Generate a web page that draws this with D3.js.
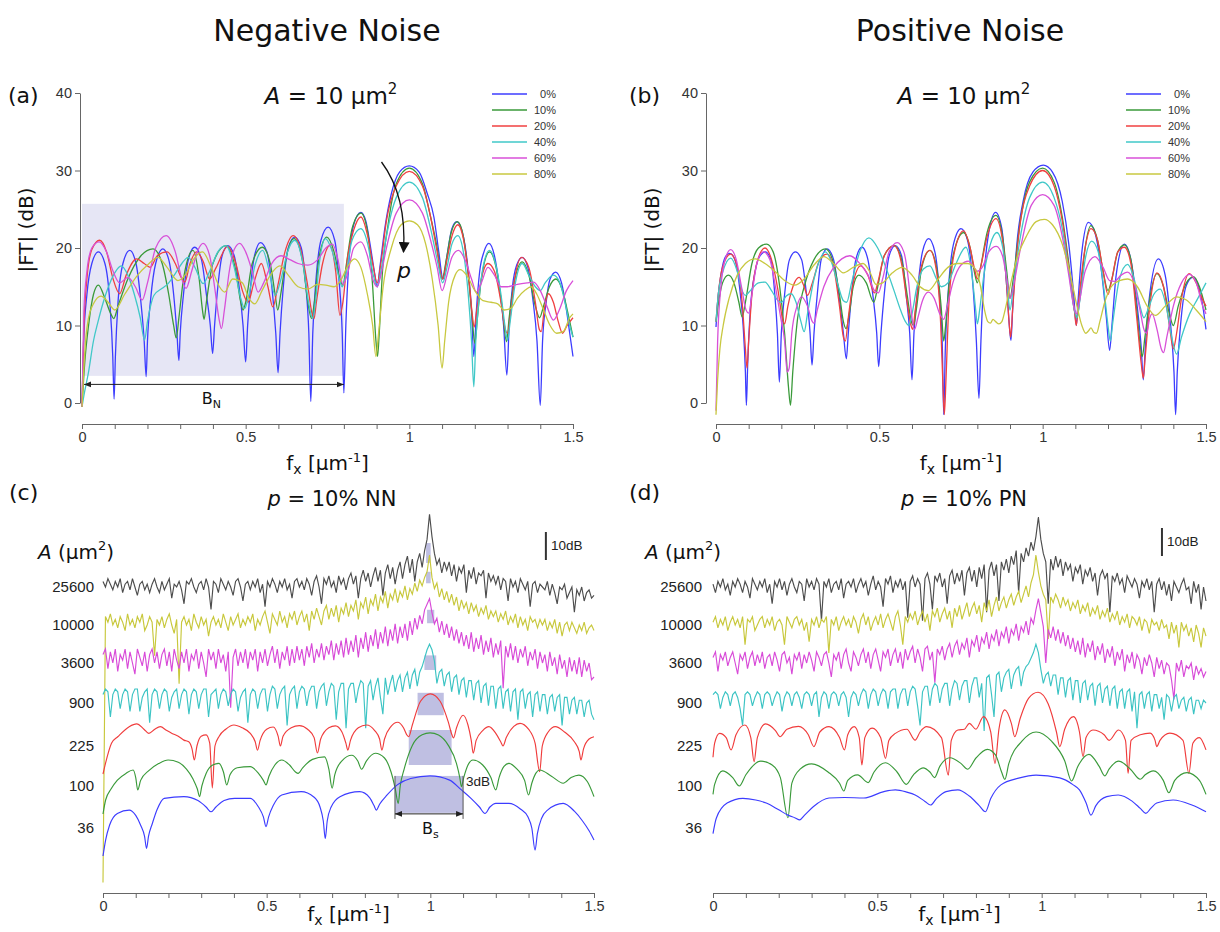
<!DOCTYPE html>
<html>
<head>
<meta charset="utf-8">
<script src="https://cdn.jsdelivr.net/npm/d3@7"></script>
<style>
  body { margin: 0; background: #fff; }
  svg text { font-family: "DejaVu Sans", sans-serif; fill: #111; }
  .axis path, .axis line { stroke: #666; }
  .axis .tick text { font-family: "Liberation Sans", Arial, sans-serif; font-size: 14.5px; fill: #333; }
</style>
</head>
<body>
<svg id="chart" width="1220" height="932"></svg>
<script>
// ---------- data ----------
const noiseLevels = ['0%', '10%', '20%', '40%', '60%', '80%'];
const noiseColors = ['#3c3cff', '#3a9a3a', '#f04040', '#40c8c8', '#d850d8', '#c8c840'];
const dbTicks = [0, 10, 20, 30, 40];
const fxTicks = [0, 0.1, 0.2, 0.3, 0.4, 0.5, 0.6, 0.7, 0.8, 0.9, 1, 1.1, 1.2, 1.3, 1.4, 1.5];
const fxLabelled = [0, 0.5, 1, 1.5];

// (a) negative noise, A = 10 um^2, [fx, dB]
const negBlue = [[0,-0.5],[0.005,8],[0.015,14],[0.03,18],[0.05,19.5],[0.07,18],[0.085,13],[0.094,6],[0.098,0.5],[0.102,6],[0.11,13],[0.125,18],[0.146,19.7],[0.165,18],[0.18,13],[0.19,8],[0.196,3.4],[0.2,8],[0.21,13.5],[0.225,18],[0.247,19.9],[0.265,18.5],[0.28,14],[0.29,9],[0.296,5.5],[0.3,9],[0.31,14],[0.325,18.5],[0.344,20.1],[0.365,18.5],[0.38,14],[0.392,10],[0.399,6.4],[0.405,10],[0.415,15],[0.428,19],[0.446,20.3],[0.465,19],[0.48,15],[0.492,10],[0.5,5.3],[0.506,10],[0.515,15],[0.527,19],[0.545,20.7],[0.565,19.5],[0.58,15],[0.592,9],[0.599,3.9],[0.605,9],[0.615,15],[0.63,20],[0.65,21.4],[0.67,20],[0.683,15.5],[0.693,9],[0.699,0.2],[0.705,9],[0.715,16],[0.73,21],[0.752,22.7],[0.772,21],[0.785,16],[0.795,9],[0.8,1.3],[0.806,10],[0.815,18],[0.83,23],[0.852,24.6],[0.867,23.5],[0.88,20.5],[0.893,17],[0.902,15],[0.91,17.5],[0.925,22.5],[0.945,27],[0.97,29.8],[1.0,30.6],[1.03,29.8],[1.055,27],[1.075,24],[1.09,19.5],[1.103,16],[1.115,19],[1.13,22.5],[1.145,23.4],[1.165,21.5],[1.18,17],[1.19,12],[1.197,6],[1.205,12],[1.215,17],[1.228,19.5],[1.243,20.6],[1.26,19],[1.275,15],[1.288,10],[1.298,3.6],[1.305,10],[1.315,15],[1.328,17.8],[1.345,18.8],[1.362,17.5],[1.377,13.5],[1.39,8],[1.4,-0.3],[1.407,8],[1.418,13],[1.43,16],[1.447,16.9],[1.465,15.5],[1.48,12],[1.49,9],[1.5,6]];
const negGreen = [[0,-0.5],[0.008,5],[0.02,10],[0.035,14],[0.05,15.2],[0.07,13.5],[0.088,11.5],[0.097,10.9],[0.11,12.5],[0.14,16],[0.18,19],[0.217,19.9],[0.245,18],[0.265,14],[0.28,10],[0.288,8.4],[0.296,11],[0.31,16],[0.339,19.7],[0.358,16],[0.368,12],[0.373,10.8],[0.38,13],[0.4,18],[0.44,20.3],[0.47,17],[0.485,13],[0.492,12],[0.5,13],[0.52,18],[0.551,20.1],[0.575,18],[0.59,14],[0.598,12],[0.607,14],[0.625,19],[0.648,21.2],[0.675,18],[0.69,13],[0.701,10.9],[0.71,13],[0.725,19],[0.748,21.4],[0.77,19.5],[0.788,16],[0.797,15.2],[0.808,18],[0.825,22.5],[0.852,24.5],[0.873,22],[0.888,15],[0.898,8],[0.903,6],[0.908,9],[0.918,17],[0.935,23],[0.96,28.3],[1.0,30.3],[1.04,28.3],[1.065,24],[1.085,20],[1.1,16],[1.113,18.5],[1.128,22],[1.147,23.4],[1.165,21.5],[1.18,16.5],[1.192,11],[1.2,7.7],[1.208,11],[1.22,16],[1.245,19.5],[1.265,17.5],[1.283,12.5],[1.297,7.9],[1.305,11],[1.32,15.5],[1.345,18.2],[1.365,16.5],[1.385,12.5],[1.398,11],[1.41,12.5],[1.428,15],[1.448,16],[1.468,14.5],[1.485,11.5],[1.5,8.5]];
const negRed = [[0,-0.5],[0.006,10],[0.015,16],[0.03,19.8],[0.054,21],[0.075,19.5],[0.095,16],[0.115,14.1],[0.135,16.5],[0.167,18.6],[0.19,18],[0.208,17.5],[0.23,19],[0.26,19.5],[0.285,18],[0.303,16.2],[0.314,15.6],[0.33,18],[0.35,19.5],[0.37,18.3],[0.39,16],[0.41,17.5],[0.445,20.2],[0.47,18],[0.49,14.5],[0.507,13],[0.525,15.5],[0.548,18],[0.568,15],[0.583,12.4],[0.6,15.5],[0.62,19.5],[0.645,21.6],[0.67,19.5],[0.69,15],[0.703,11.5],[0.709,10.9],[0.716,13],[0.735,18],[0.757,20.3],[0.775,17],[0.788,11.3],[0.797,13],[0.812,19],[0.83,22.3],[0.852,24],[0.873,21.5],[0.888,18],[0.902,15.5],[0.913,18],[0.93,23.5],[0.96,28],[1.0,29.9],[1.04,28],[1.065,24],[1.085,19.5],[1.102,16],[1.115,18.5],[1.13,21.5],[1.148,23],[1.166,21],[1.182,16],[1.192,11.5],[1.198,9.8],[1.206,12],[1.22,16],[1.24,18],[1.26,17],[1.28,13],[1.293,9.5],[1.3,9],[1.308,11],[1.32,15.5],[1.343,18.8],[1.365,17.5],[1.385,13],[1.397,9.5],[1.403,9.2],[1.412,12],[1.425,14.1],[1.44,13],[1.455,10.5],[1.468,9],[1.482,10],[1.5,11]];
const negCyan = [[0,-0.5],[0.006,1],[0.02,4],[0.035,8],[0.049,10.5],[0.065,13],[0.079,14.8],[0.1,16.8],[0.12,17.7],[0.14,16.5],[0.16,14],[0.178,11],[0.191,8.1],[0.2,10.5],[0.22,13.9],[0.245,14.8],[0.263,15.4],[0.285,16.7],[0.305,18],[0.324,18.8],[0.345,17.5],[0.37,15.4],[0.39,17],[0.415,19.5],[0.44,20.3],[0.465,17.5],[0.485,13.5],[0.497,12.2],[0.51,14],[0.53,18],[0.552,19.7],[0.572,17],[0.59,13.9],[0.608,16],[0.628,19.5],[0.65,21],[0.675,18],[0.692,13],[0.705,10.9],[0.713,13],[0.725,18],[0.743,21.2],[0.765,19.5],[0.783,16.5],[0.795,15],[0.808,17],[0.825,21],[0.852,22.5],[0.873,20.5],[0.89,16.5],[0.902,15],[0.913,17],[0.93,21.5],[0.96,26.5],[1.0,28.5],[1.04,26.5],[1.065,22.5],[1.085,18.5],[1.102,15.5],[1.115,17.5],[1.13,20.5],[1.148,21.6],[1.165,19.5],[1.18,14],[1.19,8],[1.197,2.1],[1.203,8],[1.212,13],[1.225,17.5],[1.245,19.7],[1.263,18],[1.28,14],[1.292,10],[1.3,8.1],[1.308,10.5],[1.322,15],[1.345,18],[1.365,16.5],[1.385,15],[1.4,14.5],[1.415,15.5],[1.44,16.5],[1.46,15.5],[1.478,12.5],[1.49,10],[1.5,8.5]];
const negMagenta = [[0,-0.5],[0.006,12],[0.015,17],[0.03,20],[0.052,20.8],[0.075,19.5],[0.095,17],[0.115,15.5],[0.14,16.2],[0.163,15],[0.184,13.3],[0.2,15.5],[0.225,20],[0.257,21.6],[0.285,19.5],[0.305,16],[0.318,14.8],[0.335,17],[0.355,19.8],[0.37,20.6],[0.39,19],[0.405,15],[0.418,11],[0.426,9.6],[0.435,12],[0.45,17],[0.465,19.8],[0.482,20.6],[0.5,19.5],[0.52,17],[0.538,14.3],[0.555,15.5],[0.58,18],[0.608,19],[0.635,18.5],[0.66,18],[0.69,17.8],[0.72,18.5],[0.745,20],[0.765,20.5],[0.782,18.5],[0.797,15.3],[0.81,16.5],[0.83,20],[0.852,20.8],[0.872,19],[0.888,16],[0.902,15],[0.913,16.5],[0.93,20],[0.96,24.5],[1.0,26.2],[1.04,24.5],[1.065,21],[1.085,17.5],[1.1,14.5],[1.115,16.5],[1.13,18.8],[1.15,19.7],[1.17,18.5],[1.19,16],[1.205,14.3],[1.22,15.5],[1.24,17.5],[1.26,16.5],[1.28,15],[1.3,15],[1.33,15.3],[1.36,15.5],[1.38,15.6],[1.4,14.5],[1.42,12.5],[1.44,10.7],[1.458,12],[1.48,14.5],[1.5,15.8]];
const negYellow = [[0,-0.5],[0.005,4],[0.012,8.5],[0.02,11],[0.035,12.8],[0.058,13.8],[0.08,13],[0.1,12],[0.13,14],[0.17,16.5],[0.2,17.8],[0.232,18.8],[0.26,17.5],[0.293,15.8],[0.315,16.5],[0.34,18.5],[0.368,19.5],[0.395,17.5],[0.42,15],[0.436,14.3],[0.46,16],[0.49,15.5],[0.51,13.5],[0.528,12.8],[0.55,14.5],[0.58,16.8],[0.604,17.7],[0.63,16.5],[0.66,15],[0.69,14.7],[0.72,15.3],[0.745,15.2],[0.77,15],[0.79,15.8],[0.81,17.5],[0.832,18.6],[0.852,17.5],[0.872,14],[0.888,10],[0.898,6],[0.906,9],[0.92,15],[0.945,20],[0.975,23],[1.0,23.5],[1.025,23],[1.05,20.5],[1.07,16],[1.088,10],[1.1,4.5],[1.108,8],[1.12,13],[1.14,16.5],[1.155,17.2],[1.175,16.5],[1.2,14.5],[1.225,13.2],[1.25,13],[1.27,12.8],[1.29,12],[1.31,12.2],[1.33,13.5],[1.355,14.6],[1.372,15],[1.39,14],[1.41,12],[1.43,10],[1.45,9],[1.47,9.2],[1.49,11],[1.5,11.5]];

// (b) positive noise, A = 10 um^2, [fx, dB]
const posBlue = [[0,9.8],[0.005,13],[0.015,16.5],[0.028,18.8],[0.042,19.3],[0.058,18.5],[0.072,15],[0.083,10],[0.09,4],[0.093,-0.3],[0.097,5],[0.105,12],[0.12,17],[0.135,19],[0.151,19.5],[0.168,18.5],[0.18,14],[0.188,9],[0.194,2.7],[0.2,9],[0.21,14],[0.225,18.5],[0.243,19.5],[0.262,18.5],[0.277,14],[0.288,9],[0.294,4.9],[0.3,9],[0.31,14],[0.322,18.5],[0.34,19.9],[0.36,18.5],[0.376,14],[0.39,9],[0.399,5.7],[0.405,9],[0.415,14],[0.428,18.5],[0.447,20.1],[0.465,18.5],[0.48,14],[0.492,9],[0.498,4.7],[0.505,9],[0.515,14],[0.53,19],[0.549,20.3],[0.568,19],[0.582,14],[0.593,9],[0.6,3],[0.606,9],[0.617,14.5],[0.632,19.5],[0.651,21.2],[0.67,19.5],[0.684,14],[0.693,7],[0.697,-1.5],[0.702,7],[0.712,15],[0.727,20.5],[0.75,22.5],[0.77,21],[0.785,16],[0.797,8],[0.805,0.6],[0.811,8],[0.82,16],[0.835,22],[0.856,24.6],[0.875,22.5],[0.89,15],[0.9,9],[0.903,8.1],[0.908,12],[0.92,20],[0.94,26],[0.97,29.8],[1.002,30.7],[1.03,29.8],[1.06,26],[1.08,20.5],[1.095,14],[1.103,10],[1.108,13],[1.12,19.5],[1.14,23.3],[1.16,22],[1.18,17],[1.195,11],[1.205,6.8],[1.212,10],[1.225,16.5],[1.25,20.5],[1.27,18.5],[1.288,13],[1.302,7],[1.308,3],[1.314,7],[1.325,13],[1.354,18.6],[1.375,16.5],[1.392,10],[1.402,4],[1.407,-1.5],[1.412,4],[1.422,10],[1.44,15.2],[1.46,16.2],[1.478,15],[1.492,12],[1.5,9.5]];
const posGreen = [[0,10.5],[0.008,13],[0.02,15.5],[0.038,16.5],[0.055,15.5],[0.07,13],[0.08,11.1],[0.09,13],[0.11,18],[0.13,20],[0.155,20.5],[0.175,19.5],[0.195,15],[0.21,9],[0.222,2],[0.228,-0.3],[0.235,4],[0.25,11],[0.27,15],[0.3,18.5],[0.335,19.9],[0.36,18],[0.378,14],[0.39,10.5],[0.398,9.6],[0.408,11.5],[0.42,15],[0.437,16.5],[0.46,15.5],[0.483,13],[0.495,15],[0.515,19],[0.545,20.3],[0.568,18.5],[0.585,14],[0.598,10.5],[0.605,10],[0.613,12],[0.63,17.5],[0.655,19.7],[0.675,17.5],[0.69,12],[0.697,8],[0.703,10],[0.715,16],[0.735,20.5],[0.758,22],[0.778,20],[0.793,16.5],[0.8,15.5],[0.81,17.5],[0.83,22],[0.857,24.2],[0.877,21.5],[0.89,17],[0.9,13.5],[0.91,16],[0.93,23],[0.96,28.5],[1.0,30.3],[1.035,28.5],[1.06,24],[1.08,18],[1.097,12],[1.105,11],[1.115,14],[1.13,20],[1.148,22.9],[1.168,21],[1.185,17],[1.2,14.5],[1.212,16],[1.23,19.5],[1.25,20.4],[1.27,18.5],[1.288,12],[1.3,7],[1.305,6],[1.313,8.5],[1.33,14],[1.35,16.7],[1.37,15],[1.388,11.5],[1.4,10],[1.415,12.5],[1.44,15.5],[1.462,16.3],[1.48,15],[1.5,12]];
const posRed = [[0,10.5],[0.007,14],[0.02,17.5],[0.045,19.2],[0.065,17.5],[0.08,13],[0.09,7],[0.095,4.5],[0.1,8],[0.11,14],[0.128,18.5],[0.15,20],[0.17,18.5],[0.19,14.5],[0.203,11],[0.21,10.2],[0.22,12.5],[0.24,15.5],[0.255,16.2],[0.27,15],[0.28,13.9],[0.295,15.5],[0.318,18.5],[0.34,19.2],[0.36,17.5],[0.378,12.5],[0.39,8.5],[0.396,8],[0.405,11],[0.42,15.5],[0.443,17.7],[0.465,16.5],[0.485,14.2],[0.495,15.5],[0.515,19],[0.545,20.3],[0.568,18],[0.585,13],[0.597,10],[0.602,9.5],[0.61,12],[0.628,17.5],[0.655,19.7],[0.675,17],[0.688,10],[0.695,2],[0.699,-1.5],[0.704,3],[0.712,12],[0.73,19.5],[0.758,22.2],[0.778,20],[0.793,17],[0.8,16],[0.81,17.5],[0.83,21.5],[0.857,23.8],[0.877,21],[0.89,15],[0.898,10],[0.902,8.5],[0.908,12],[0.925,21],[0.96,28],[1.0,30],[1.035,28],[1.06,23.5],[1.08,17.5],[1.097,12],[1.103,10],[1.11,13],[1.128,19.5],[1.148,22.5],[1.168,21],[1.185,17],[1.2,14],[1.212,16],[1.23,19.5],[1.25,20.1],[1.27,18],[1.288,11],[1.302,5],[1.308,3.2],[1.314,6],[1.328,12.5],[1.35,16.8],[1.37,15],[1.388,10],[1.4,7],[1.41,9],[1.425,13.5],[1.448,16.7],[1.47,15.5],[1.488,13.5],[1.5,12.5]];
const posCyan = [[0,10.5],[0.007,14],[0.02,16.8],[0.045,18.7],[0.065,17],[0.08,14.5],[0.09,13.9],[0.105,14.5],[0.13,15.5],[0.15,15.6],[0.17,14.5],[0.19,13.2],[0.2,13],[0.215,13.8],[0.23,14.1],[0.245,13],[0.26,10.5],[0.27,9.2],[0.28,11.5],[0.3,16],[0.318,18.5],[0.335,19.5],[0.355,18],[0.375,15],[0.39,13.2],[0.4,13],[0.415,15.5],[0.44,19.5],[0.468,21.3],[0.495,20],[0.52,17.5],[0.545,14.5],[0.565,12],[0.58,10.5],[0.59,10],[0.6,11.5],[0.615,15],[0.635,17.3],[0.655,17.7],[0.675,16],[0.69,15],[0.71,15.5],[0.735,18],[0.765,20.1],[0.785,16],[0.795,12],[0.8,10.2],[0.807,12],[0.82,16.5],[0.84,20.5],[0.86,22],[0.878,20],[0.892,15],[0.9,12],[0.91,15],[0.93,21],[0.96,26.5],[1.0,28.5],[1.035,26.5],[1.06,22.5],[1.08,17],[1.097,12],[1.105,11],[1.113,13],[1.13,18.5],[1.15,20.9],[1.17,19.5],[1.188,14.5],[1.2,10],[1.207,8],[1.215,10.5],[1.235,16],[1.26,17.9],[1.28,16],[1.298,12.5],[1.31,11],[1.322,12],[1.34,14],[1.36,14.7],[1.378,12.5],[1.395,8.5],[1.41,6.3],[1.425,8.5],[1.45,11.5],[1.475,13.5],[1.5,15.5]];
const posMagenta = [[0,-1],[0.005,8],[0.015,15],[0.03,18.8],[0.045,19.8],[0.062,18.5],[0.078,15],[0.092,12],[0.1,11.6],[0.11,14],[0.125,18],[0.145,19.5],[0.165,18.5],[0.182,15],[0.198,11],[0.21,8],[0.218,4],[0.224,4.5],[0.232,9],[0.248,12.5],[0.262,13.7],[0.28,12.5],[0.295,10.5],[0.3,10.3],[0.31,12],[0.33,15],[0.36,17.5],[0.385,18.6],[0.41,19],[0.44,18],[0.465,16.5],[0.485,14.5],[0.497,14.2],[0.51,16],[0.53,19.5],[0.555,20.7],[0.575,19.5],[0.59,15.5],[0.6,11],[0.608,9.5],[0.618,11],[0.632,13.2],[0.65,14.3],[0.668,13.5],[0.685,11.5],[0.697,10.8],[0.708,12.5],[0.725,15.5],[0.75,17.8],[0.772,18.3],[0.79,17.5],[0.8,17],[0.815,17.5],[0.835,19.5],[0.858,20.2],[0.877,19],[0.892,15.5],[0.9,13.5],[0.91,15],[0.93,19.5],[0.965,25.5],[1.0,26.9],[1.035,25.5],[1.06,21.5],[1.08,16.5],[1.095,12.5],[1.103,11.5],[1.112,13],[1.13,17],[1.16,18.9],[1.185,17.5],[1.205,15.8],[1.22,15.7],[1.24,16.5],[1.26,16.9],[1.28,15.5],[1.298,12],[1.31,9.5],[1.318,9],[1.328,11],[1.335,11.5],[1.35,9.5],[1.363,7],[1.37,6.5],[1.38,8.5],[1.4,12.5],[1.425,15.5],[1.45,16.6],[1.47,15.5],[1.49,12.5],[1.5,11.5]];
const posYellow = [[0,-1.5],[0.005,3],[0.012,7],[0.022,10],[0.04,13.5],[0.065,16.5],[0.09,18],[0.12,18.6],[0.15,18],[0.18,17],[0.21,15.8],[0.24,15.2],[0.27,16],[0.3,17.8],[0.33,18.9],[0.36,18],[0.39,16.8],[0.42,17.5],[0.45,18],[0.47,17],[0.49,15.3],[0.51,15.5],[0.54,16.8],[0.57,17.5],[0.6,16.5],[0.625,15],[0.65,14.5],[0.68,16],[0.71,17.5],[0.74,18],[0.77,18],[0.795,17.2],[0.81,15],[0.822,12],[0.832,10.5],[0.84,10.3],[0.848,10.8],[0.856,10.5],[0.866,10.2],[0.875,10.5],[0.885,12],[0.9,15],[0.92,18.5],[0.95,21.5],[0.98,23.4],[1.005,23.7],[1.03,23],[1.06,20.5],[1.085,16.5],[1.105,12.5],[1.12,10],[1.132,9],[1.14,9.3],[1.148,9.7],[1.157,9.1],[1.165,9],[1.175,10.5],[1.19,13],[1.21,15],[1.235,15.8],[1.26,16],[1.29,15],[1.32,12.5],[1.345,11.3],[1.375,12.5],[1.41,13.7],[1.44,13.3],[1.47,12],[1.5,10.5]];

// (c)/(d) stacked spectra, dB relative to each row
const areaLabels = ['25600', '10000', '3600', '900', '225', '100', '36'];
const areaColors = ['#4d4d4d', '#c8c83c', '#d84ad8', '#3cc4c4', '#f03c3c', '#3a9a3a', '#3c3cff'];
const denseStep = 0.0075; // dense traces are sampled every 0.0075 um^-1 from 0 to 1.5

const nnBlack = [2,0,3,1,-1,2,0,3,-2,1,2,-1,3,0,-3,1,2,-1,1,-2,
  1,3,0,-2,2,-1,1,3,-4,1,0,2,-1,-6,2,1,3,0,-2,1,
  2,-1,3,0,-8,2,1,-2,3,1,-1,2,0,-3,2,3,0,-5,1,2,
  -1,2,0,3,-2,1,-7,2,0,3,1,-2,2,0,3,-1,1,-4,2,3,
  0,2,-1,3,1,-3,2,4,0,-6,3,1,4,0,2,-2,4,1,3,-1,
  3,5,1,4,-4,3,6,2,5,0,4,7,2,6,-3,5,8,3,7,1,
  6,9,3,8,11,5,10,2,9,12,7,13,17,26,18,12,8,10,5,9,
  6,9,4,8,2,7,5,8,-2,6,3,7,1,5,4,6,-4,5,2,4,
  1,4,-1,3,2,-5,3,0,2,-2,3,1,-1,2,-7,1,2,-2,1,0,
  -1,2,-3,1,-2,-6,0,-1,1,-4,-2,0,-9,-1,-3,0,-5,-2,-1,-4,
  -3];
const nnYellow = [-92,3,1,4,0,2,-1,3,1,-2,4,0,2,-1,3,1,4,-2,0,3,
  1,-11,2,0,3,-1,2,4,0,-3,2,-21,1,3,0,2,-2,4,1,-1,
  3,0,2,-4,1,3,0,2,-1,4,1,-2,3,0,2,4,-1,2,0,3,
  1,4,-2,2,0,3,5,1,-3,4,2,0,5,1,3,-1,4,2,5,0,
  3,5,1,4,-2,5,2,6,3,0,5,7,2,6,3,7,1,6,4,8,
  3,7,5,9,2,8,6,10,4,9,7,11,5,10,8,12,6,11,9,13,
  8,12,10,14,9,13,11,15,12,16,14,17,19,25,17,13,15,10,13,9,
  12,8,11,7,10,5,9,6,8,4,8,5,7,3,6,4,7,2,5,3,
  5,1,4,2,5,0,3,1,4,-1,3,0,2,-2,3,1,2,-1,2,0,
  2,-2,1,-1,2,-3,1,-4,0,1,-2,1,-1,-3,0,-2,1,-3,-1,0,
  -2];
const nnMagenta = [3,5,-2,4,0,5,-3,3,1,5,-2,4,0,-4,5,2,-1,4,-3,3,
  5,0,4,-2,3,5,-1,4,-3,5,1,-2,4,0,5,-3,3,1,5,-2,
  4,0,-5,5,1,4,-2,5,0,3,-3,4,-16,2,5,-1,4,0,5,-2,
  4,1,5,-3,4,0,5,-1,3,6,0,5,-2,4,1,6,-1,5,0,6,
  1,5,-1,6,2,7,0,5,2,7,1,6,3,8,1,7,3,8,2,9,
  3,8,4,10,2,9,5,11,4,10,6,12,5,11,7,13,6,12,8,14,
  7,13,9,14,8,15,10,16,12,17,14,19,21,23,18,14,16,11,15,10,
  14,9,13,8,12,7,11,6,10,5,11,4,9,5,10,3,8,4,9,2,
  7,3,8,-9,6,2,7,1,6,0,5,2,6,-1,4,1,5,-2,4,0,
  3,-3,4,-1,2,-4,3,-2,1,-5,2,-3,1,-4,2,-5,1,-3,0,-6,
  -5];
const nnCyan = [3,5,4,-5,3,5,4,-2,3,5,4,-3,3,5,5,-3,2,4,5,-7,
  3,5,4,-2,3,5,4,-3,2,4,5,-2,3,5,4,-4,3,5,4,-2,
  3,5,5,-5,3,4,5,-2,3,5,4,-1,3,5,4,-3,2,4,5,-7,
  3,5,4,-2,3,5,5,-3,3,6,5,-2,3,5,6,-8,3,5,6,-2,
  4,6,5,-1,4,6,6,-2,4,6,7,-1,4,7,6,-6,4,7,7,-9,
  5,7,7,0,5,8,7,-9,6,8,1,6,9,2,-4,9,3,7,10,4,
  8,10,4,9,11,5,10,12,6,11,13,16,19,21,19,15,7,11,12,6,
  10,11,4,9,10,3,8,9,2,8,8,1,7,8,0,6,7,-1,6,6,
  -2,5,6,-2,4,5,-3,4,5,-6,4,5,-2,3,4,-5,3,4,-3,3,
  3,-4,2,3,-3,2,3,-8,2,2,-4,1,2,-4,1,1,-5,0,1,-4,
  -6];
const nnRed = [[0,-10],[0.008,-6],[0.026,1],[0.045,3.3],[0.08,6.9],[0.103,7.9],[0.125,6],[0.14,4.5],[0.158,6],[0.175,6.9],[0.195,5.5],[0.211,4.5],[0.23,3.5],[0.247,2.1],[0.262,1.5],[0.272,-1],[0.279,-5],[0.287,0],[0.3,3.5],[0.315,4],[0.326,1],[0.334,-15],[0.342,0],[0.355,3.5],[0.375,6],[0.4,7.5],[0.425,6.5],[0.45,4.5],[0.465,1.5],[0.472,-1.5],[0.48,2],[0.5,6],[0.52,6.8],[0.535,3.5],[0.542,0],[0.55,3.5],[0.575,6.5],[0.6,7.3],[0.625,6],[0.645,3],[0.655,-2.5],[0.665,2.5],[0.69,6.5],[0.71,7.2],[0.73,5],[0.742,1],[0.748,-1.5],[0.756,2],[0.78,6.5],[0.805,7.5],[0.83,5.5],[0.845,2.5],[0.852,-1.5],[0.86,2.5],[0.88,7],[0.9,8.5],[0.918,6.5],[0.928,4],[0.934,3.3],[0.945,7.5],[0.97,16],[1.0,18.6],[1.03,16],[1.055,8.5],[1.066,4],[1.071,2.9],[1.08,6.5],[1.1,11],[1.115,7.5],[1.125,2],[1.131,-2.6],[1.14,2],[1.16,5.5],[1.179,6.9],[1.2,4.5],[1.215,1.5],[1.222,0],[1.232,3],[1.255,7],[1.274,8.1],[1.3,6],[1.32,1],[1.334,-9.2],[1.342,0],[1.36,5],[1.382,6.9],[1.41,5],[1.44,1.5],[1.455,-2],[1.46,-5],[1.468,-1],[1.485,2.5],[1.5,3.3]];
const nnGreen = [[0,-10],[0.008,-5],[0.025,-1],[0.044,2.1],[0.07,4.5],[0.092,5.7],[0.1,3],[0.106,-1.4],[0.115,2],[0.14,5.5],[0.17,8],[0.199,9.3],[0.23,8.5],[0.255,6],[0.275,2.5],[0.288,-1],[0.295,-3.8],[0.302,0],[0.315,4.5],[0.335,7.5],[0.354,8.1],[0.368,5],[0.378,0.4],[0.388,4],[0.41,6.5],[0.45,6.9],[0.475,4.5],[0.49,2],[0.498,0.4],[0.507,3.5],[0.525,7.5],[0.546,9.3],[0.57,7.5],[0.588,5],[0.596,4.5],[0.61,6.5],[0.64,9.5],[0.677,10.4],[0.69,6],[0.7,-0.8],[0.708,4],[0.73,9],[0.76,11],[0.778,9],[0.79,6],[0.805,9],[0.832,11.7],[0.86,10],[0.88,5],[0.893,-1],[0.902,-6.2],[0.908,0],[0.92,6],[0.945,14.5],[0.975,18.3],[0.999,19],[1.025,18.2],[1.055,14.5],[1.08,8],[1.09,3],[1.095,-0.2],[1.102,3],[1.115,7.5],[1.13,9.3],[1.16,7.5],[1.185,3],[1.2,-1.4],[1.21,3],[1.225,7],[1.24,8.1],[1.265,6],[1.288,2],[1.3,-3.2],[1.31,1],[1.322,4.5],[1.334,5.7],[1.37,3.5],[1.406,1],[1.43,3],[1.454,3.9],[1.48,1.5],[1.5,-3.8]];
const nnBlue = [[0,-10],[0.008,-4.3],[0.02,1],[0.044,5.2],[0.08,6.4],[0.1,4.5],[0.115,1],[0.127,-3],[0.133,-7.3],[0.139,-3],[0.151,1.7],[0.165,6.5],[0.187,10.6],[0.247,11.2],[0.29,9.8],[0.315,7.5],[0.33,5.8],[0.345,7.5],[0.37,9.8],[0.402,10.6],[0.45,10.6],[0.475,7.5],[0.49,4],[0.498,0.5],[0.506,4],[0.52,8],[0.546,11.8],[0.605,13],[0.645,11],[0.663,7.5],[0.673,2.5],[0.679,-3.7],[0.685,2.5],[0.697,7.5],[0.724,11.2],[0.784,13],[0.815,10.8],[0.828,8],[0.835,6.4],[0.845,8.5],[0.868,11.8],[0.9,15.5],[0.94,17.7],[0.999,18.6],[1.059,17.1],[1.095,13.6],[1.125,10.5],[1.15,7.5],[1.167,5.2],[1.182,7.5],[1.2,8.8],[1.24,8.8],[1.275,6.8],[1.298,4],[1.31,0],[1.32,-7.9],[1.327,-2],[1.34,3.5],[1.358,6.4],[1.406,8.8],[1.44,6],[1.465,2.5],[1.485,-1],[1.5,-4.3]];
// 3 dB bandwidth boxes: [fx from, fx to, dB top, dB bottom] per row
const nnBoxes = [[0.987,1.001,15.7,8.6],[0.987,1.001,19,14.9],[0.99,1.012,19,14.2],[0.982,1.018,17,11.8],[0.961,1.041,19,11],[0.934,1.065,20,7.5],[0.892,1.1,18.6,5.4]];

const pnBlack = [1,-2,2,0,3,-1,1,-3,2,0,3,1,-2,2,0,-4,3,1,-1,2,
  0,3,-2,1,-6,2,0,3,-1,2,-3,1,3,0,-2,2,1,-5,3,0,
  2,-1,3,1,-12,2,0,3,-2,1,2,-1,3,-4,1,2,0,3,-2,1,
  3,0,2,-3,1,4,-1,2,0,-7,3,1,4,-2,2,0,3,-1,2,-11,
  2,4,0,3,1,-12,3,5,1,-8,4,2,5,0,3,-6,4,6,1,5,
  2,6,-3,5,7,2,6,0,7,3,8,-9,6,9,4,8,-5,9,6,10,
  5,11,8,13,-2,12,9,14,11,16,13,18,25,17,12,9,-6,10,6,11,
  7,10,4,9,6,8,2,7,5,8,1,6,4,7,2,5,-3,4,6,3,
  5,-9,4,2,5,1,3,-2,4,2,0,3,1,-4,2,0,3,-1,2,-9,
  1,3,-1,2,-3,1,-5,2,0,-2,1,3,-1,0,-6,2,-2,1,-8,0,
  -5];
const pnYellow = [1,3,-1,2,0,3,-2,1,3,0,2,-1,3,-7,2,1,3,-2,0,2,
  3,-1,2,0,3,-2,1,2,0,-7,3,1,-1,2,3,0,2,-2,1,-6,
  2,0,3,-1,2,1,3,-10,2,0,3,-2,1,3,0,2,-1,3,1,-3,
  2,4,0,3,-2,1,3,0,4,-1,2,4,1,-2,3,5,0,-7,3,1,
  4,2,5,0,3,5,1,4,-2,5,3,6,1,4,6,2,5,-1,6,3,
  7,2,5,8,3,6,8,4,7,1,8,5,9,3,7,10,5,8,10,6,
  9,11,7,10,12,8,11,14,10,15,18,25,19,14,11,9,-5,10,8,11,
  9,6,10,7,9,5,8,6,9,4,7,5,8,3,6,4,7,2,5,3,
  6,1,4,2,5,0,3,1,4,-1,3,2,0,3,-2,2,1,-3,2,0,
  1,-2,2,-1,0,-5,1,-3,0,-8,1,-2,0,-4,-1,-6,0,-3,-8,-1,
  -4];
const pnMagenta = [2,4,-3,3,1,4,-1,2,4,0,-4,3,1,4,-2,2,4,-1,3,0,
  4,-2,2,3,-1,4,1,-3,3,4,0,2,-4,3,1,4,-2,3,0,4,
  1,-3,4,2,-1,3,4,0,-5,3,1,4,-2,3,5,0,-3,4,2,-1,
  3,5,0,4,-2,3,5,1,-3,4,2,5,-1,3,5,0,4,-2,5,1,
  4,6,0,5,2,-3,5,6,1,4,-7,5,3,6,1,5,7,2,6,8,
  3,7,5,9,2,8,6,10,4,9,7,11,5,10,8,12,6,11,9,13,
  7,12,10,14,8,13,11,15,10,16,14,19,23,18,13,0,12,9,13,8,
  12,7,11,6,10,5,9,4,8,3,9,2,7,4,8,1,6,3,7,0,
  5,2,6,-1,4,1,5,-3,3,0,4,-2,3,1,-4,2,-1,3,0,-5,
  2,-2,1,-4,0,-1,-6,-13,0,-3,1,-5,-1,-2,0,-6,-1,-4,-2,-5,
  -3];
const pnCyan = [3,4,3,-2,2,4,3,-1,3,4,2,-2,-8,3,4,3,-1,2,4,3,
  -2,3,4,3,-1,2,4,3,-3,2,4,3,-1,3,4,2,-2,3,4,3,
  -1,3,4,-5,2,4,3,-2,3,4,3,-1,3,4,2,-5,2,4,3,-1,
  3,5,4,-2,3,5,4,-1,3,5,4,-2,4,5,5,-2,3,5,5,-1,
  4,6,5,-1,-8,4,6,6,-1,5,7,6,0,5,7,7,-1,5,8,7,
  1,6,8,8,0,6,9,9,2,7,-10,9,10,3,-5,10,11,4,9,11,
  12,5,10,12,13,6,11,13,14,16,18,21,18,12,7,10,11,6,10,10,
  3,9,9,2,8,9,1,8,8,0,7,8,1,6,7,-1,6,7,0,5,
  6,-1,5,6,-2,4,5,-2,4,5,-3,4,-9,3,4,-2,3,4,-3,3,
  3,-2,2,-6,3,2,-3,2,3,-2,1,2,-3,1,2,-4,1,1,-2,1,
  0];
const pnRed = [[0,-4],[0.005,1],[0.02,4.5],[0.04,3],[0.055,-1.4],[0.07,4],[0.097,7.5],[0.115,3],[0.125,-5.6],[0.135,3],[0.16,7.9],[0.19,5.5],[0.204,3.3],[0.225,6],[0.26,7],[0.29,4],[0.307,-0.2],[0.325,5],[0.353,6.9],[0.385,3],[0.4,-1.4],[0.41,4],[0.43,6.9],[0.445,3],[0.453,-6.8],[0.462,3],[0.484,6.4],[0.51,3],[0.525,-4.4],[0.535,2],[0.555,4.5],[0.59,6],[0.615,2.1],[0.63,5],[0.65,6.9],[0.695,3],[0.716,-10.4],[0.725,2],[0.745,5.7],[0.765,6],[0.78,8.1],[0.8,6],[0.823,10.5],[0.845,5],[0.858,-6.2],[0.87,6],[0.888,12.9],[0.908,8],[0.918,3.3],[0.935,10],[0.96,17],[0.989,19.2],[1.02,15],[1.045,5],[1.055,-0.2],[1.07,6],[1.097,10.5],[1.115,5],[1.126,-3.8],[1.135,3],[1.156,5.7],[1.19,4],[1.205,2],[1.234,5.7],[1.255,2],[1.263,-9.8],[1.272,2],[1.3,4],[1.33,4.6],[1.345,2],[1.35,-0.2],[1.36,2],[1.39,4.6],[1.43,2],[1.448,-9.8],[1.46,1],[1.48,3],[1.5,-1.4]];
const pnGreen = [[0,-3],[0.005,0.6],[0.03,5.4],[0.06,3],[0.08,0],[0.1,4],[0.145,8.9],[0.18,7.5],[0.205,3],[0.228,-11.3],[0.24,1],[0.265,6],[0.3,7.9],[0.35,5],[0.385,1],[0.398,-1.8],[0.41,2],[0.44,4],[0.472,1.2],[0.49,5],[0.525,8.3],[0.56,5],[0.588,0.6],[0.61,4],[0.639,6.5],[0.66,5],[0.674,3],[0.69,7],[0.721,10.1],[0.755,8],[0.775,6],[0.8,10],[0.835,13.1],[0.86,11],[0.878,5],[0.888,2.4],[0.9,8],[0.94,16],[0.983,19.3],[1.03,16],[1.07,9],[1.091,1.8],[1.11,7],[1.144,11.3],[1.175,7],[1.192,3.6],[1.205,6],[1.234,8.9],[1.27,6],[1.3,2.4],[1.315,4],[1.34,5.4],[1.37,2],[1.387,-2.4],[1.405,2],[1.442,4.8],[1.48,2],[1.5,-3]];
const pnBlue = [[0,-2],[0.01,3.5],[0.043,8.9],[0.091,10.6],[0.13,10],[0.162,8.9],[0.2,6.5],[0.228,4.6],[0.25,3.6],[0.264,2.9],[0.278,4.5],[0.305,7.6],[0.353,10.7],[0.4,10.9],[0.459,10.7],[0.52,13],[0.555,13.6],[0.59,12.8],[0.615,11.8],[0.645,9.5],[0.662,8.2],[0.68,10.5],[0.709,13],[0.745,13.6],[0.78,11.4],[0.81,8],[0.829,5.8],[0.845,10.5],[0.876,15.4],[0.93,17.8],[0.983,18.9],[1.055,17.9],[1.095,15.5],[1.115,13.6],[1.135,9],[1.15,4.6],[1.165,8],[1.198,11.2],[1.233,11.8],[1.275,9.6],[1.3,7],[1.317,5.2],[1.332,7],[1.35,8.9],[1.4,10],[1.457,8.2],[1.5,5.8]];

// ---------- drawing ----------
const svg = d3.select('#chart');
const defs = svg.append('defs');
defs.append('marker').attr('id', 'head')
  .attr('viewBox', '0 0 10 10').attr('refX', 10).attr('refY', 5)
  .attr('markerWidth', 7).attr('markerHeight', 7).attr('markerUnits', 'userSpaceOnUse')
  .attr('orient', 'auto-start-reverse')
  .append('path').attr('d', 'M0,1L10,5L0,9z').attr('fill', '#222');
defs.append('marker').attr('id', 'bigHead')
  .attr('viewBox', '0 0 10 10').attr('refX', 9).attr('refY', 5)
  .attr('markerWidth', 11).attr('markerHeight', 11).attr('markerUnits', 'userSpaceOnUse')
  .attr('orient', 'auto')
  .append('path').attr('d', 'M0,0L10,5L0,10z').attr('fill', '#111');

function fxLabel(g, cx, y) {
  const t = g.append('text').attr('x', cx).attr('y', y).attr('text-anchor', 'middle').style('font-size', '20px');
  t.append('tspan').text('f');
  t.append('tspan').attr('dy', 4).style('font-size', '14px').text('x');
  t.append('tspan').attr('dy', -4).text(' [μm');
  t.append('tspan').attr('dy', -8).style('font-size', '13px').text('-1');
  t.append('tspan').attr('dy', 8).text(']');
}

function xAxis(g, x, y) {
  g.append('g').attr('class', 'axis').attr('transform', `translate(0,${y})`)
    .call(d3.axisBottom(x).tickValues(fxTicks).tickSize(5).tickSizeOuter(0).tickPadding(3)
      .tickFormat(d => fxLabelled.some(v => Math.abs(v - d) < 1e-9) ? d3.format('')(d) : ''));
}

function spectrumPanel(cfg) {
  const g = svg.append('g');
  const x = d3.scaleLinear().domain([0, 1.5]).range(cfg.xRange);
  const y = d3.scaleLinear().domain([0, 40]).range([403, 93]);

  if (cfg.band) {
    g.append('rect')
      .attr('x', x(cfg.band[0])).attr('width', x(cfg.band[1]) - x(cfg.band[0]))
      .attr('y', y(cfg.band[3])).attr('height', y(cfg.band[2]) - y(cfg.band[3]))
      .attr('fill', '#e6e6f5');
  }

  g.append('g').attr('class', 'axis').attr('transform', `translate(${cfg.yAxisX},0)`)
    .call(d3.axisLeft(y).tickValues(dbTicks).tickSize(5).tickSizeOuter(0).tickPadding(3));
  xAxis(g, x, 424);

  const line = d3.line().x(d => x(d[0])).y(d => y(d[1])).curve(d3.curveMonotoneX);
  cfg.series.forEach((s, i) => {
    g.append('path').attr('d', line(s))
      .attr('fill', 'none').attr('stroke', noiseColors[i]).attr('stroke-width', 1.3);
  });

  // legend
  const lg = g.append('g').attr('transform', `translate(${cfg.legendX},94)`);
  noiseLevels.forEach((lab, i) => {
    lg.append('line').attr('x1', 0).attr('x2', 35).attr('y1', i * 16).attr('y2', i * 16)
      .attr('stroke', noiseColors[i]).attr('stroke-width', 1.3);
    lg.append('text').attr('x', 64).attr('y', i * 16 + 4).attr('text-anchor', 'end')
      .style('font-family', '"Liberation Sans", Arial, sans-serif').style('font-size', '11px')
      .style('fill', '#333').text(lab);
  });

  g.append('text').attr('x', cfg.tagX).attr('y', 103).style('font-size', '22px').text(cfg.tag);
  const t = g.append('text').attr('x', cfg.titleX).attr('y', 104).attr('text-anchor', 'middle').style('font-size', '23px');
  t.append('tspan').style('font-style', 'italic').text('A');
  t.append('tspan').text(' = 10 μm');
  t.append('tspan').attr('dy', -10).style('font-size', '15px').text('2');

  g.append('text').attr('transform', `translate(${cfg.yAxisX - 47},230) rotate(-90)`)
    .attr('text-anchor', 'middle').style('font-size', '20px').text('|FT| (dB)');
  fxLabel(g, (cfg.xRange[0] + cfg.xRange[1]) / 2, 470);
  return { g, x, y };
}

function stackPanel(cfg) {
  const g = svg.append('g');
  const x = d3.scaleLinear().domain([0, 1.5]).range(cfg.xRange);
  const dB = d3.scaleLinear().domain([0, 10]).range([0, -28]);
  const rowY = [587, 625, 663, 703, 746, 786, 828];

  if (cfg.boxes) {
    cfg.boxes.forEach((b, i) => {
      g.append('rect').attr('x', x(b[0])).attr('width', x(b[1]) - x(b[0]))
        .attr('y', rowY[i] + dB(b[2])).attr('height', dB(b[3]) - dB(b[2]))
        .attr('fill', '#bfbfe2');
    });
  }

  xAxis(g, x, 893);

  const pairLine = d3.line().x(d => x(d[0])).curve(d3.curveMonotoneX);
  cfg.series.forEach((s, i) => {
    const pts = typeof s[0] === 'number' ? s.map((v, k) => [k * denseStep, v]) : s;
    const line = typeof s[0] === 'number'
      ? d3.line().x(d => x(d[0])).y(d => rowY[i] + dB(d[1]))
      : pairLine.y(d => rowY[i] + dB(d[1]));
    g.append('path').attr('d', line(pts))
      .attr('fill', 'none').attr('stroke', areaColors[i]).attr('stroke-width', 1.15);
    g.append('text').attr('x', cfg.labelX).attr('y', rowY[i] + 5).attr('text-anchor', 'end')
      .style('font-family', '"Liberation Sans", Arial, sans-serif').style('font-size', '15px')
      .style('fill', '#222').text(areaLabels[i]);
  });

  // 10 dB scale bar
  const barX = x(cfg.barFx);
  g.append('line').attr('x1', barX).attr('x2', barX)
    .attr('y1', cfg.barTop).attr('y2', cfg.barTop + dB(-10))
    .attr('stroke', '#333').attr('stroke-width', 2);
  g.append('text').attr('x', barX + 5).attr('y', cfg.barTop + 18)
    .style('font-family', '"Liberation Sans", Arial, sans-serif').style('font-size', '13.5px')
    .style('fill', '#222').text('10dB');

  g.append('text').attr('x', cfg.tagX).attr('y', 500).style('font-size', '22px').text(cfg.tag);
  const t = g.append('text').attr('x', cfg.titleX).attr('y', 506).attr('text-anchor', 'middle').style('font-size', '21px');
  t.append('tspan').style('font-style', 'italic').text('p');
  t.append('tspan').text(cfg.title);
  const a = g.append('text').attr('x', cfg.areaX).attr('y', 559).style('font-size', '20px');
  a.append('tspan').style('font-style', 'italic').text('A');
  a.append('tspan').text(' (μm');
  a.append('tspan').attr('dy', -9).style('font-size', '13px').text('2');
  a.append('tspan').attr('dy', 9).text(')');
  fxLabel(g, (cfg.xRange[0] + cfg.xRange[1]) / 2, 921);
  return { g, x, dB, rowY };
}

// headings
svg.append('text').attr('x', 327).attr('y', 41).attr('text-anchor', 'middle').style('font-size', '30px').text('Negative Noise');
svg.append('text').attr('x', 960).attr('y', 41).attr('text-anchor', 'middle').style('font-size', '30px').text('Positive Noise');

// (a)
const pa = spectrumPanel({
  xRange: [82, 573], yAxisX: 80, legendX: 492, tagX: 8, tag: '(a)', titleX: 331,
  band: [0, 0.8, 3.5, 25.7],
  series: [negBlue, negGreen, negRed, negCyan, negMagenta, negYellow]
});
// B_N arrow
const bnY = pa.y(2.4);
pa.g.append('line').attr('x1', pa.x(0) + 2).attr('x2', pa.x(0.8)).attr('y1', bnY).attr('y2', bnY)
  .attr('stroke', '#222').attr('stroke-width', 1)
  .attr('marker-start', 'url(#head)').attr('marker-end', 'url(#head)');
const bn = pa.g.append('text').attr('x', pa.x(0.395)).attr('y', bnY + 20).attr('text-anchor', 'middle').style('font-size', '16px');
bn.append('tspan').text('B');
bn.append('tspan').attr('dy', 4).style('font-size', '11px').text('N');
// curved p arrow
pa.g.append('path').attr('d', 'M381.5,162 Q407,196 403.5,252')
  .attr('fill', 'none').attr('stroke', '#111').attr('stroke-width', 1.3).attr('marker-end', 'url(#bigHead)');
pa.g.append('text').attr('x', 404).attr('y', 278).attr('text-anchor', 'middle')
  .style('font-size', '22px').style('font-style', 'italic').text('p');

// (b)
spectrumPanel({
  xRange: [716, 1206], yAxisX: 706, legendX: 1126, tagX: 629, tag: '(b)', titleX: 964,
  series: [posBlue, posGreen, posRed, posCyan, posMagenta, posYellow]
});

// (c)
const pc = stackPanel({
  xRange: [103, 594], labelX: 94, tagX: 9, tag: '(c)', titleX: 332, title: ' = 10% NN', areaX: 38,
  barFx: 1.353, barTop: 532, boxes: nnBoxes,
  series: [nnBlack, nnYellow, nnMagenta, nnCyan, nnRed, nnGreen, nnBlue]
});
// B_s arrow under the 36 um^2 box
const blueBox = nnBoxes[6];
const bsTop = pc.rowY[6] + pc.dB(blueBox[2]);
const bsY = pc.rowY[6] + pc.dB(blueBox[3]) + 1;
[blueBox[0], blueBox[1]].forEach(f => {
  pc.g.append('line').attr('x1', pc.x(f)).attr('x2', pc.x(f)).attr('y1', bsTop).attr('y2', bsY + 5)
    .attr('stroke', '#555').attr('stroke-width', 1);
});
pc.g.append('line').attr('x1', pc.x(blueBox[0])).attr('x2', pc.x(blueBox[1])).attr('y1', bsY).attr('y2', bsY)
  .attr('stroke', '#222').attr('stroke-width', 1)
  .attr('marker-start', 'url(#head)').attr('marker-end', 'url(#head)');
const bs = pc.g.append('text').attr('x', pc.x(1.0)).attr('y', bsY + 20).attr('text-anchor', 'middle').style('font-size', '16px');
bs.append('tspan').text('B');
bs.append('tspan').attr('dy', 4).style('font-size', '11px').text('s');
pc.g.append('text').attr('x', pc.x(blueBox[1]) + 3).attr('y', bsTop + 10)
  .style('font-family', '"Liberation Sans", Arial, sans-serif').style('font-size', '13.5px')
  .style('fill', '#222').text('3dB');

// (d)
stackPanel({
  xRange: [713, 1206], labelX: 702, tagX: 629, tag: '(d)', titleX: 964, title: ' = 10% PN', areaX: 645,
  barFx: 1.366, barTop: 528,
  series: [pnBlack, pnYellow, pnMagenta, pnCyan, pnRed, pnGreen, pnBlue]
});
</script>
</body>
</html>
